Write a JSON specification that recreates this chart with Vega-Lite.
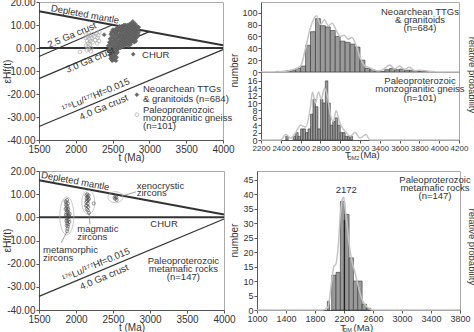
{
  "$schema": "https://vega.github.io/schema/vega-lite/v6.json",
  "autosize": {"type": "none"},
  "padding": {"left": 39, "top": 2, "right": 435, "bottom": 330},
  "background": "white",
  "config": {
    "view": {"stroke": "#aaaaaa", "strokeWidth": 1},
    "axis": {"labelFont": "Liberation Sans", "labelFontSize": 10, "labelColor": "#333333", "titleFont": "Liberation Sans", "titleFontSize": 10, "titleFontWeight": "normal", "titleColor": "#333333", "domainColor": "#555555", "tickColor": "#555555", "tickSize": 3, "grid": false, "labelPadding": 1, "labelOverlap": false, "labelFlush": false, "format": "d"},
    "text": {"font": "Liberation Sans", "fontSize": 9.5, "fill": "#333333"}
  },
  "datasets": {
    "thick": [
      {"id": "DM", "x": 1500, "y": 16}, {"id": "DM", "x": 4000, "y": 1.2},
      {"id": "CHUR", "x": 1500, "y": 0}, {"id": "CHUR", "x": 4000, "y": 0}
    ],
    "crustTL": [
      {"id": "c25", "x": 1500, "y": -3.7}, {"id": "c25", "x": 2500, "y": 10.1},
      {"id": "c30", "x": 1500, "y": -13.3}, {"id": "c30", "x": 3000, "y": 7.1},
      {"id": "c40", "x": 1500, "y": -34.1}, {"id": "c40", "x": 4000, "y": -0.7}
    ],
    "crustBL": [
      {"id": "c40", "x": 1500, "y": -34.1}, {"id": "c40", "x": 4000, "y": -0.7}
    ]
  },
  "spacing": 2,
  "vconcat": [
    {
      "bounds": "flush",
      "spacing": 38,
      "hconcat": [
        {
          "width": 184, "height": 138,
          "encoding": {
            "x": {"field": "x", "type": "quantitative", "scale": {"domain": [1500, 4000], "nice": false}, "axis": {"values": [1500, 2000, 2500, 3000, 3500, 4000], "title": "t (Ma)", "titleY": 17, "titleBaseline": "middle"}},
            "y": {"field": "y", "type": "quantitative", "scale": {"domain": [-40, 20], "nice": false}, "axis": {"values": [-40, -30, -20, -10, 0, 10, 20], "labelExpr": "replace(format(datum.value, '.2f'), '\u2212', '-')", "title": "εHf(t)", "titleX": -27, "titleY": 69}}
          },
          "layer": [
            {"data": {"name": "crustTL"}, "mark": {"type": "line", "stroke": "#333333", "strokeWidth": 1.2}, "encoding": {"detail": {"field": "id"}}},
            {"data": {"name": "thick"}, "mark": {"type": "line", "stroke": "#333333", "strokeWidth": 2}, "encoding": {"detail": {"field": "id"}}},
            {"data": {"values": [
              {"x": 2055, "y": -1.7}, {"x": 2130, "y": 4.5}, {"x": 2140, "y": 1}, {"x": 2145, "y": 6}, {"x": 2150, "y": -1}, {"x": 2155, "y": 3}, {"x": 2160, "y": 5}, {"x": 2165, "y": 0.5}, {"x": 2170, "y": 2}, {"x": 2175, "y": 6.5}, {"x": 2180, "y": -0.5}, {"x": 2185, "y": 4}, {"x": 2190, "y": 1.5}, {"x": 2195, "y": 5.5}, {"x": 2200, "y": 3}, {"x": 2205, "y": -1.5}, {"x": 2210, "y": 0}, {"x": 2215, "y": 4.5}, {"x": 2225, "y": 2.5}, {"x": 2235, "y": 6}, {"x": 2250, "y": 5}, {"x": 2265, "y": 3.5}, {"x": 2280, "y": 6.5}, {"x": 2290, "y": 2}, {"x": 2295, "y": 4.5}, {"x": 2305, "y": 5.5}, {"x": 2315, "y": 3}, {"x": 2320, "y": 7}
            ]}, "mark": {"type": "point", "shape": "circle", "filled": false, "stroke": "#aaaaaa", "strokeWidth": 1, "size": 14}},
            {"data": {"values": [
              {"x": 2385, "y": 5.8}, {"x": 2440, "y": 1}, {"x": 2445, "y": -1}, {"x": 2780, "y": -2.7},
              {"x": 2455, "y": 2.5}, {"x": 2455, "y": -1.5},
              {"x": 2465, "y": 4}, {"x": 2465, "y": 0}, {"x": 2465, "y": -3},
              {"x": 2475, "y": 6}, {"x": 2475, "y": 1.5}, {"x": 2475, "y": -2}, {"x": 2475, "y": -4.5},
              {"x": 2485, "y": 7}, {"x": 2485, "y": 3}, {"x": 2485, "y": -0.5}, {"x": 2485, "y": -3.5}, {"x": 2485, "y": -5},
              {"x": 2495, "y": 5}, {"x": 2495, "y": 2}, {"x": 2495, "y": -1}, {"x": 2495, "y": -4}, {"x": 2495, "y": -5.5},
              {"x": 2505, "y": 8}, {"x": 2505, "y": 4.5}, {"x": 2505, "y": 0.5}, {"x": 2505, "y": -2.5}, {"x": 2505, "y": -5},
              {"x": 2515, "y": 6.5}, {"x": 2515, "y": 3}, {"x": 2515, "y": -1.5}, {"x": 2515, "y": -4}, {"x": 2515, "y": 1},
              {"x": 2525, "y": 7.5}, {"x": 2525, "y": 4}, {"x": 2525, "y": 0}, {"x": 2525, "y": -3}, {"x": 2525, "y": -5},
              {"x": 2535, "y": 5.5}, {"x": 2535, "y": 2}, {"x": 2535, "y": -1}, {"x": 2535, "y": -4.5}, {"x": 2535, "y": 8},
              {"x": 2545, "y": 7}, {"x": 2545, "y": 3.5}, {"x": 2545, "y": 0.5}, {"x": 2545, "y": -2.5}, {"x": 2545, "y": -5.5},
              {"x": 2555, "y": 6}, {"x": 2555, "y": 2.5}, {"x": 2555, "y": -1.5}, {"x": 2555, "y": -4}, {"x": 2555, "y": 8.5},
              {"x": 2565, "y": 7.5}, {"x": 2565, "y": 4.5}, {"x": 2565, "y": 1}, {"x": 2565, "y": -2},
              {"x": 2575, "y": 8}, {"x": 2575, "y": 5}, {"x": 2575, "y": 2}, {"x": 2575, "y": -0.5},
              {"x": 2585, "y": 9}, {"x": 2585, "y": 6}, {"x": 2585, "y": 3}, {"x": 2585, "y": 0.5},
              {"x": 2595, "y": 7.5}, {"x": 2595, "y": 4.5}, {"x": 2595, "y": 1.5}, {"x": 2595, "y": 9.5},
              {"x": 2605, "y": 8.5}, {"x": 2605, "y": 5.5}, {"x": 2605, "y": 2.5}, {"x": 2605, "y": 0},
              {"x": 2615, "y": 9}, {"x": 2615, "y": 6.5}, {"x": 2615, "y": 3.5}, {"x": 2615, "y": 1},
              {"x": 2625, "y": 7.5}, {"x": 2625, "y": 4.5}, {"x": 2625, "y": 2}, {"x": 2625, "y": 9.5},
              {"x": 2635, "y": 8}, {"x": 2635, "y": 5.5}, {"x": 2635, "y": 3}, {"x": 2635, "y": 0.5},
              {"x": 2645, "y": 9.5}, {"x": 2645, "y": 6.5}, {"x": 2645, "y": 4}, {"x": 2645, "y": 1.5},
              {"x": 2655, "y": 8}, {"x": 2655, "y": 5}, {"x": 2655, "y": 2.5}, {"x": 2655, "y": 10},
              {"x": 2665, "y": 9}, {"x": 2665, "y": 6}, {"x": 2665, "y": 3.5}, {"x": 2665, "y": 1},
              {"x": 2675, "y": 7.5}, {"x": 2675, "y": 5}, {"x": 2675, "y": 2}, {"x": 2675, "y": 10},
              {"x": 2685, "y": 8.5}, {"x": 2685, "y": 6}, {"x": 2685, "y": 3.5}, {"x": 2685, "y": 1.5},
              {"x": 2695, "y": 9.5}, {"x": 2695, "y": 7}, {"x": 2695, "y": 4.5}, {"x": 2695, "y": 2},
              {"x": 2705, "y": 10}, {"x": 2705, "y": 7.5}, {"x": 2705, "y": 5}, {"x": 2705, "y": 2.5},
              {"x": 2715, "y": 8.5}, {"x": 2715, "y": 6}, {"x": 2715, "y": 3.5}, {"x": 2715, "y": 1},
              {"x": 2725, "y": 9.5}, {"x": 2725, "y": 7}, {"x": 2725, "y": 4.5}, {"x": 2725, "y": 2},
              {"x": 2735, "y": 10.5}, {"x": 2735, "y": 8}, {"x": 2735, "y": 5.5}, {"x": 2735, "y": 3},
              {"x": 2745, "y": 9}, {"x": 2745, "y": 6.5}, {"x": 2745, "y": 4}, {"x": 2745, "y": 1.5},
              {"x": 2755, "y": 10}, {"x": 2755, "y": 7.5}, {"x": 2755, "y": 5}, {"x": 2755, "y": 2.5},
              {"x": 2765, "y": 11}, {"x": 2765, "y": 8.5}, {"x": 2765, "y": 6}, {"x": 2765, "y": 3.5},
              {"x": 2775, "y": 9.5}, {"x": 2775, "y": 7}, {"x": 2775, "y": 4.5}, {"x": 2775, "y": 11.5},
              {"x": 2785, "y": 10}, {"x": 2785, "y": 8}, {"x": 2785, "y": 5.5}, {"x": 2785, "y": 3},
              {"x": 2795, "y": 9}, {"x": 2795, "y": 7}, {"x": 2795, "y": 4.5}, {"x": 2795, "y": 2.5},
              {"x": 2805, "y": 10.5}, {"x": 2805, "y": 8}, {"x": 2805, "y": 6}, {"x": 2805, "y": 3.5},
              {"x": 2815, "y": 9.5}, {"x": 2815, "y": 7.5}, {"x": 2815, "y": 5}, {"x": 2815, "y": 3},
              {"x": 2825, "y": 8.5}, {"x": 2825, "y": 6.5}, {"x": 2825, "y": 4.5},
              {"x": 2835, "y": 9.5}, {"x": 2835, "y": 7}, {"x": 2835, "y": 5},
              {"x": 2845, "y": 8}, {"x": 2845, "y": 6}, {"x": 2855, "y": 7}, {"x": 2855, "y": 9}
            ]}, "mark": {"type": "point", "shape": "diamond", "filled": true, "fill": "#6a6a6a", "stroke": "#555555", "strokeWidth": 0.5, "size": 16, "opacity": 1}},
            {"data": {"values": [{"x": 2830, "y": -20.3}]}, "mark": {"type": "point", "shape": "diamond", "filled": true, "fill": "#6a6a6a", "stroke": "#555555", "strokeWidth": 0.5, "size": 16, "opacity": 1}},
            {"data": {"values": [{"x": 2830, "y": -29}]}, "mark": {"type": "point", "shape": "circle", "filled": false, "stroke": "#aaaaaa", "strokeWidth": 1, "size": 14}},
            {"data": {"values": [{"x": 2125, "y": 14.6, "t": "Depleted mantle"}]}, "mark": {"type": "text", "angle": 10.5, "baseline": "middle"}, "encoding": {"text": {"field": "t"}}},
            {"data": {"values": [
              {"x": 1948, "y": 5.6, "t": "2.5 Ga crust"},
              {"x": 2193, "y": -5.3, "t": "3.0 Ga crust"},
              {"x": 2270, "y": -20.5, "t": "¹⁷⁶Lu/¹⁷⁷Hf=0.015"},
              {"x": 2380, "y": -25.8, "t": "4.0 Ga crust"}
            ]}, "mark": {"type": "text", "angle": -23, "baseline": "middle"}, "encoding": {"text": {"field": "t"}}},
            {"data": {"values": [
              {"x": 2900, "y": -2.9, "t": "CHUR"},
              {"x": 2913, "y": -17.7, "t": "Neoarchean TTGs"},
              {"x": 2913, "y": -22.1, "t": "& granitoids (n=684)"},
              {"x": 2913, "y": -26.9, "t": "Paleoproterozoic"},
              {"x": 2913, "y": -30.4, "t": "monzogranitic gneiss"},
              {"x": 2913, "y": -34.1, "t": "(n=101)"}
            ]}, "mark": {"type": "text", "align": "left", "baseline": "middle"}, "encoding": {"text": {"field": "t"}}}
          ]
        },
        {
          "bounds": "flush",
          "spacing": 0,
          "vconcat": [
            {
              "width": 198, "height": 70,
              "encoding": {
                "x": {"field": "a", "type": "quantitative", "scale": {"domain": [2200, 4200], "nice": false}, "axis": {"labels": false, "ticks": false, "title": null}},
                "y": {"field": "n", "type": "quantitative", "scale": {"domain": [0, 118], "nice": false}, "axis": {"values": [0, 20, 40, 60, 80, 100], "labelFontSize": 9, "title": "number", "titleX": -22, "titleY": 68}}
              },
              "layer": [
                {"data": {"values": [
                  {"a": 2350, "b": 2400, "n": 1}, {"a": 2400, "b": 2450, "n": 1}, {"a": 2450, "b": 2500, "n": 2}, {"a": 2500, "b": 2550, "n": 3},
                  {"a": 2550, "b": 2600, "n": 6}, {"a": 2600, "b": 2650, "n": 10}, {"a": 2650, "b": 2700, "n": 45}, {"a": 2700, "b": 2750, "n": 68},
                  {"a": 2750, "b": 2800, "n": 90}, {"a": 2800, "b": 2850, "n": 78}, {"a": 2850, "b": 2900, "n": 76}, {"a": 2900, "b": 2950, "n": 70},
                  {"a": 2950, "b": 3000, "n": 60}, {"a": 3000, "b": 3050, "n": 52}, {"a": 3050, "b": 3100, "n": 50}, {"a": 3100, "b": 3150, "n": 47},
                  {"a": 3150, "b": 3200, "n": 42}, {"a": 3200, "b": 3250, "n": 20}, {"a": 3250, "b": 3300, "n": 6}, {"a": 3300, "b": 3350, "n": 4},
                  {"a": 3350, "b": 3400, "n": 2}, {"a": 3400, "b": 3450, "n": 1}, {"a": 3450, "b": 3500, "n": 4}, {"a": 3500, "b": 3550, "n": 6},
                  {"a": 3550, "b": 3600, "n": 4}, {"a": 3600, "b": 3650, "n": 5}, {"a": 3650, "b": 3700, "n": 3}, {"a": 3700, "b": 3750, "n": 3},
                  {"a": 3750, "b": 3800, "n": 2}, {"a": 3800, "b": 3850, "n": 1}, {"a": 3850, "b": 3900, "n": 1}, {"a": 3900, "b": 3950, "n": 1}
                ]}, "mark": {"type": "rect", "fill": "#9a9a9a", "stroke": "#333333", "strokeWidth": 0.6}, "encoding": {"x2": {"field": "b"}, "y2": {"datum": 0}}},
                {"data": {"values": [
                  {"a": 2200, "n": 0}, {"a": 2400, "n": 0.5}, {"a": 2500, "n": 3}, {"a": 2600, "n": 10}, {"a": 2650, "n": 40}, {"a": 2700, "n": 75},
                  {"a": 2760, "n": 95}, {"a": 2800, "n": 80}, {"a": 2840, "n": 88}, {"a": 2880, "n": 78}, {"a": 2920, "n": 82}, {"a": 2960, "n": 70},
                  {"a": 3000, "n": 60}, {"a": 3040, "n": 62}, {"a": 3080, "n": 55}, {"a": 3120, "n": 58}, {"a": 3160, "n": 45}, {"a": 3200, "n": 25},
                  {"a": 3250, "n": 10}, {"a": 3300, "n": 7}, {"a": 3350, "n": 3}, {"a": 3400, "n": 2}, {"a": 3450, "n": 6}, {"a": 3500, "n": 12},
                  {"a": 3550, "n": 5}, {"a": 3600, "n": 10}, {"a": 3650, "n": 4}, {"a": 3700, "n": 8}, {"a": 3750, "n": 2}, {"a": 3800, "n": 3},
                  {"a": 3900, "n": 1}, {"a": 4000, "n": 0}, {"a": 4200, "n": 0}
                ]}, "mark": {"type": "line", "stroke": "#c4c4c4", "strokeWidth": 1.5, "interpolate": "monotone"}},
                {"data": {"values": [
                  {"a": 3806, "n": 101.7, "t": "Neoarchean TTGs"},
                  {"a": 3806, "n": 88, "t": "& granitoids"},
                  {"a": 3806, "n": 74.6, "t": "(n=684)"}
                ]}, "mark": {"type": "text", "baseline": "middle"}, "encoding": {"text": {"field": "t"}}}
              ]
            },
            {
              "width": 198, "height": 68,
              "encoding": {
                "x": {"field": "a", "type": "quantitative", "scale": {"domain": [2200, 4200], "nice": false}, "axis": {"values": [2200, 2400, 2600, 2800, 3000, 3200, 3400, 3600, 3800, 4000, 4200], "labelFontSize": 8, "title": null}},
                "y": {"field": "n", "type": "quantitative", "scale": {"domain": [0, 18.4], "nice": false}, "axis": {"values": [0, 2, 4, 6, 8, 10, 12, 14, 16], "labelFontSize": 9, "title": null}}
              },
              "layer": [
                {"data": {"values": [
                  {"a": 2450, "b": 2475, "n": 1}, {"a": 2525, "b": 2550, "n": 1}, {"a": 2550, "b": 2575, "n": 2}, {"a": 2575, "b": 2600, "n": 1},
                  {"a": 2600, "b": 2625, "n": 3}, {"a": 2625, "b": 2650, "n": 3}, {"a": 2650, "b": 2675, "n": 2}, {"a": 2675, "b": 2700, "n": 3},
                  {"a": 2700, "b": 2725, "n": 7}, {"a": 2725, "b": 2750, "n": 11}, {"a": 2750, "b": 2775, "n": 9}, {"a": 2775, "b": 2800, "n": 3},
                  {"a": 2800, "b": 2825, "n": 11}, {"a": 2825, "b": 2850, "n": 10}, {"a": 2850, "b": 2875, "n": 16}, {"a": 2875, "b": 2900, "n": 10},
                  {"a": 2900, "b": 2925, "n": 4}, {"a": 2925, "b": 2950, "n": 5}, {"a": 2950, "b": 2975, "n": 6}, {"a": 2975, "b": 3000, "n": 4},
                  {"a": 3000, "b": 3025, "n": 2}, {"a": 3025, "b": 3050, "n": 2}, {"a": 3050, "b": 3075, "n": 1}, {"a": 3075, "b": 3100, "n": 1},
                  {"a": 3100, "b": 3125, "n": 1}
                ]}, "mark": {"type": "rect", "fill": "#9a9a9a", "stroke": "#333333", "strokeWidth": 0.6}, "encoding": {"x2": {"field": "b"}, "y2": {"datum": 0}}},
                {"data": {"values": [
                  {"a": 2200, "n": 0}, {"a": 2400, "n": 0}, {"a": 2450, "n": 1.5}, {"a": 2500, "n": 0.5}, {"a": 2550, "n": 2}, {"a": 2600, "n": 4},
                  {"a": 2650, "n": 3.5}, {"a": 2700, "n": 9}, {"a": 2720, "n": 13}, {"a": 2750, "n": 10}, {"a": 2780, "n": 13}, {"a": 2810, "n": 11},
                  {"a": 2840, "n": 14}, {"a": 2870, "n": 12}, {"a": 2900, "n": 7}, {"a": 2930, "n": 5}, {"a": 2960, "n": 8}, {"a": 2990, "n": 5},
                  {"a": 3030, "n": 3}, {"a": 3060, "n": 2}, {"a": 3100, "n": 1}, {"a": 3150, "n": 2}, {"a": 3200, "n": 0.5}, {"a": 3260, "n": 1.5},
                  {"a": 3300, "n": 0}, {"a": 4200, "n": 0}
                ]}, "mark": {"type": "line", "stroke": "#c4c4c4", "strokeWidth": 1.5, "interpolate": "monotone"}},
                {"data": {"values": [
                  {"a": 3806, "n": 16, "t": "Paleoproterozoic"},
                  {"a": 3806, "n": 13.7, "t": "monzogranitic gneiss"},
                  {"a": 3806, "n": 11.5, "t": "(n=101)"},
                  {"a": 3079, "n": -4.1, "t": "T"},
                  {"a": 3301, "n": -4.1, "t": "(Ma)"}
                ]}, "mark": {"type": "text", "baseline": "middle"}, "encoding": {"text": {"field": "t"}}},
                {"data": {"values": [{"a": 3135, "n": -4.8, "t": "DM2"}]}, "mark": {"type": "text", "baseline": "middle", "fontSize": 5.5}, "encoding": {"text": {"field": "t"}}},
                {"data": {"values": [{"a": 4328, "n": 17.6, "t": "relative probability"}]}, "mark": {"type": "text", "baseline": "middle", "angle": 90}, "encoding": {"text": {"field": "t"}}}
              ]
            }
          ]
        }
      ]
    },
    {
      "bounds": "flush",
      "spacing": 33,
      "hconcat": [
        {
          "width": 185, "height": 139,
          "encoding": {
            "x": {"field": "x", "type": "quantitative", "scale": {"domain": [1500, 4000], "nice": false}, "axis": {"values": [1500, 2000, 2500, 3000, 3500, 4000], "title": "t (Ma)", "titleY": 17, "titleBaseline": "middle"}},
            "y": {"field": "y", "type": "quantitative", "scale": {"domain": [-40, 20], "nice": false}, "axis": {"values": [-40, -30, -20, -10, 0, 10, 20], "labelExpr": "replace(format(datum.value, '.2f'), '\u2212', '-')", "title": "εHf(t)", "titleX": -27, "titleY": 69}}
          },
          "layer": [
            {"data": {"name": "crustBL"}, "mark": {"type": "line", "stroke": "#333333", "strokeWidth": 1.2}, "encoding": {"detail": {"field": "id"}}},
            {"data": {"name": "thick"}, "mark": {"type": "line", "stroke": "#333333", "strokeWidth": 2}, "encoding": {"detail": {"field": "id"}}},
            {"data": {"values": [{"x": 1876, "y": 0.6}]}, "mark": {"type": "point", "shape": "M0,-1A0.37,1,0,1,1,0,1A0.37,1,0,1,1,0,-1Z", "filled": false, "stroke": "#b0b0b0", "strokeWidth": 1, "size": 1444}},
            {"data": {"values": [{"x": 2166, "y": 6.5}]}, "mark": {"type": "point", "shape": "M0,-1A0.54,1,0,1,1,0,1A0.54,1,0,1,1,0,-1Z", "filled": false, "stroke": "#b0b0b0", "strokeWidth": 1, "size": 576}},
            {"data": {"values": [{"x": 2533, "y": 8.7}]}, "mark": {"type": "point", "shape": "M-1,0A1,0.73,0,1,1,1,0A1,0.73,0,1,1,-1,0Z", "filled": false, "stroke": "#b0b0b0", "strokeWidth": 1, "size": 225}},
            {"data": {"values": [
              {"id": "a", "x": 1880, "y": -6}, {"id": "a", "x": 1800, "y": -11},
              {"id": "b", "x": 2175, "y": 2}, {"id": "b", "x": 2190, "y": -3},
              {"id": "c", "x": 2600, "y": 9}, {"id": "c", "x": 2810, "y": 11}
            ]}, "mark": {"type": "line", "stroke": "#777777", "strokeWidth": 0.7}, "encoding": {"detail": {"field": "id"}}},
            {"data": {"values": [
              {"x": 1860, "y": 7}, {"x": 1870, "y": 6.5}, {"x": 1880, "y": 7.5}, {"x": 1865, "y": 5.5}, {"x": 1875, "y": 5}, {"x": 1890, "y": 6}, {"x": 1870, "y": 4}, {"x": 1885, "y": 4.5},
              {"x": 1860, "y": 3.5}, {"x": 1880, "y": 3}, {"x": 1895, "y": 3.5}, {"x": 1870, "y": 2}, {"x": 1885, "y": 2.5}, {"x": 1900, "y": 2}, {"x": 1865, "y": 1}, {"x": 1880, "y": 0.5},
              {"x": 1895, "y": 1}, {"x": 1875, "y": -0.5}, {"x": 1890, "y": 0}, {"x": 1905, "y": 0.5}, {"x": 1870, "y": -1.5}, {"x": 1885, "y": -1.5}, {"x": 1900, "y": -1}, {"x": 1880, "y": -2.5},
              {"x": 1895, "y": -3}, {"x": 1875, "y": -3.5}, {"x": 1890, "y": -4}, {"x": 1885, "y": -5}, {"x": 1880, "y": -6}, {"x": 1915, "y": 1.5}, {"x": 1910, "y": -2},
              {"x": 2140, "y": 9.5}, {"x": 2150, "y": 10}, {"x": 2160, "y": 9}, {"x": 2170, "y": 9.5}, {"x": 2145, "y": 8}, {"x": 2155, "y": 8.5}, {"x": 2165, "y": 7.5}, {"x": 2175, "y": 8},
              {"x": 2140, "y": 6.5}, {"x": 2150, "y": 7}, {"x": 2160, "y": 6}, {"x": 2135, "y": 5}, {"x": 2150, "y": 5}, {"x": 2165, "y": 4.5}, {"x": 2145, "y": 3.5}, {"x": 2160, "y": 3}, {"x": 2175, "y": 2}, {"x": 2240, "y": 6},
              {"x": 2520, "y": 8.5}, {"x": 2530, "y": 8}, {"x": 2535, "y": 9}, {"x": 2545, "y": 8.5}, {"x": 2550, "y": 7.5}
            ]}, "mark": {"type": "point", "shape": "circle", "filled": false, "stroke": "#444444", "strokeWidth": 0.8, "size": 10}},
            {"data": {"values": [{"x": 1990, "y": 15.6, "t": "Depleted mantle"}]}, "mark": {"type": "text", "angle": 10.5, "baseline": "middle"}, "encoding": {"text": {"field": "t"}}},
            {"data": {"values": [
              {"x": 2270, "y": -20.5, "t": "¹⁷⁶Lu/¹⁷⁷Hf=0.015"},
              {"x": 2380, "y": -25.8, "t": "4.0 Ga crust"}
            ]}, "mark": {"type": "text", "angle": -23, "baseline": "middle"}, "encoding": {"text": {"field": "t"}}},
            {"data": {"values": [
              {"x": 3190, "y": -3, "t": "CHUR"},
              {"x": 3451, "y": -19, "t": "Paleoproterozoic"},
              {"x": 3451, "y": -22.3, "t": "metamafic rocks"},
              {"x": 3451, "y": -25.8, "t": "(n=147)"}
            ]}, "mark": {"type": "text", "baseline": "middle"}, "encoding": {"text": {"field": "t"}}},
            {"data": {"values": [
              {"x": 2820, "y": 13.5, "t": "xenocrystic"},
              {"x": 2820, "y": 10.3, "t": "zircons"},
              {"x": 2017, "y": -5.2, "t": "magmatic"},
              {"x": 2017, "y": -8.6, "t": "zircons"},
              {"x": 1555, "y": -13.9, "t": "metamorphic"},
              {"x": 1555, "y": -17.5, "t": "zircons"}
            ]}, "mark": {"type": "text", "align": "left", "baseline": "middle"}, "encoding": {"text": {"field": "t"}}}
          ]
        },
        {
          "width": 203, "height": 139,
          "encoding": {
            "x": {"field": "a", "type": "quantitative", "scale": {"domain": [1000, 3800], "nice": false}, "axis": {"values": [1000, 1400, 1800, 2200, 2600, 3000, 3400, 3800], "labelFontSize": 9, "title": null}},
            "y": {"field": "n", "type": "quantitative", "scale": {"domain": [0, 48], "nice": false}, "axis": {"values": [0, 5, 10, 15, 20, 25, 30, 35, 40, 45], "labelFontSize": 9, "title": "number", "titleX": -18, "titleY": 69}}
          },
          "layer": [
            {"data": {"values": [
              {"a": 1970, "b": 2000, "n": 3}, {"a": 2030, "b": 2090, "n": 12}, {"a": 2090, "b": 2150, "n": 13}, {"a": 2150, "b": 2210, "n": 37.5},
              {"a": 2210, "b": 2270, "n": 33}, {"a": 2270, "b": 2330, "n": 18}, {"a": 2330, "b": 2390, "n": 10}, {"a": 2390, "b": 2450, "n": 10},
              {"a": 2450, "b": 2510, "n": 2}, {"a": 2510, "b": 2570, "n": 0.6}
            ]}, "mark": {"type": "rect", "fill": "#9a9a9a", "stroke": "#333333", "strokeWidth": 0.6}, "encoding": {"x2": {"field": "b"}, "y2": {"datum": 0}}},
            {"data": {"values": [
              {"a": 1000, "n": 0}, {"a": 1900, "n": 0}, {"a": 1980, "n": 1}, {"a": 2020, "n": 8}, {"a": 2060, "n": 15}, {"a": 2090, "n": 16}, {"a": 2120, "n": 22},
              {"a": 2150, "n": 33}, {"a": 2175, "n": 38}, {"a": 2195, "n": 39}, {"a": 2215, "n": 35}, {"a": 2240, "n": 30}, {"a": 2270, "n": 23},
              {"a": 2300, "n": 18}, {"a": 2340, "n": 14}, {"a": 2380, "n": 10}, {"a": 2420, "n": 6}, {"a": 2460, "n": 3}, {"a": 2500, "n": 1.5},
              {"a": 2550, "n": 0.5}, {"a": 2600, "n": 0}, {"a": 3800, "n": 0}
            ]}, "mark": {"type": "line", "stroke": "#c4c4c4", "strokeWidth": 1.5, "interpolate": "monotone"}},
            {"data": {"values": [{"a": 2205, "n": 0}, {"a": 2205, "n": 31}]}, "mark": {"type": "line", "stroke": "#222222", "strokeWidth": 1.3}, "encoding": {}},
            {"data": {"values": [
              {"a": 2232, "n": 41.5, "t": "2172"},
              {"a": 3455, "n": 44.8, "t": "Paleoproterozoic"},
              {"a": 3455, "n": 42.2, "t": "metamafic rocks"},
              {"a": 3455, "n": 39.4, "t": "(n=147)"},
              {"a": 2190, "n": -6.3, "t": "T"},
              {"a": 2466, "n": -6.3, "t": "(Ma)"}
            ]}, "mark": {"type": "text", "baseline": "middle"}, "encoding": {"text": {"field": "t"}}},
            {"data": {"values": [{"a": 2250, "n": -7, "t": "DM"}]}, "mark": {"type": "text", "baseline": "middle", "fontSize": 5.5}, "encoding": {"text": {"field": "t"}}},
            {"data": {"values": [{"a": 3961, "n": 21.8, "t": "relative probability"}]}, "mark": {"type": "text", "baseline": "middle", "angle": 90}, "encoding": {"text": {"field": "t"}}}
          ]
        }
      ]
    }
  ]
}
